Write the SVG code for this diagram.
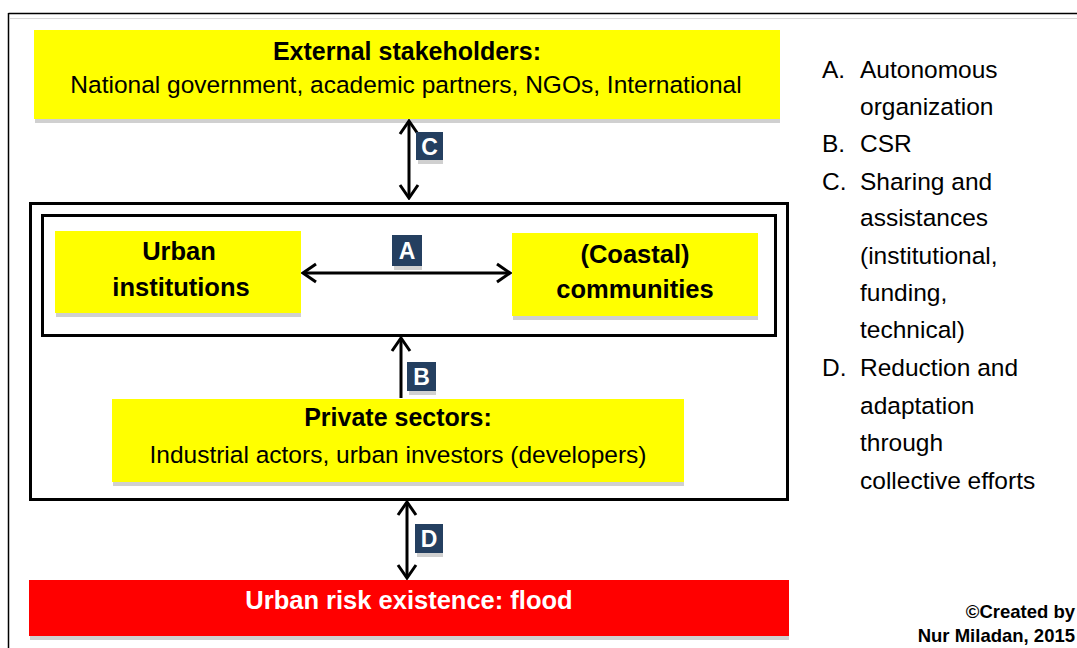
<svg xmlns="http://www.w3.org/2000/svg" width="1077" height="648" viewBox="0 0 1077 648">
<style>
text{font-family:"Liberation Sans",Arial,sans-serif;fill:#000}
.b{font-weight:bold}
.box{fill:#ffff00}
.sh{fill:#d0d0d0}
.lbl{fill:#243f60}
.lt{fill:#fff;font-weight:bold;font-size:23px;text-anchor:middle}
.conn{stroke:#000;stroke-width:3;fill:none}
.leg{font-size:24.5px}
</style>
<defs>
<marker id="ah" viewBox="0 0 22 22" refX="20" refY="11" markerWidth="22" markerHeight="22" markerUnits="userSpaceOnUse" orient="auto-start-reverse">
<path d="M7,2 L20,11 L7,20" fill="none" stroke="#000" stroke-width="3"/>
</marker>
</defs>
<rect width="1077" height="648" fill="#fff"/>
<g id="page-frame">
<line x1="8.5" y1="13.5" x2="1077" y2="13.5" stroke="#000" stroke-width="1.5"/>
<line x1="8.5" y1="13" x2="8.5" y2="648" stroke="#000" stroke-width="1.5"/>
<line x1="10" y1="18.5" x2="1077" y2="18.5" stroke="#d8d8d8" stroke-width="1"/>
</g>
<g id="external">
<rect class="sh" x="35" y="119" width="745" height="4"/>
<rect class="box" x="34" y="30" width="746" height="89"/>
<text class="b" x="407" y="60" font-size="25" text-anchor="middle">External stakeholders:</text>
<text x="406" y="93" font-size="24.5" text-anchor="middle">National government, academic partners, NGOs, International</text>
</g>
<g id="frame-outer">
<rect x="30.5" y="203.5" width="757" height="296" fill="none" stroke="#000" stroke-width="3"/>
</g>
<g id="frame-inner">
<rect x="42.5" y="215.5" width="733" height="120" fill="none" stroke="#000" stroke-width="3"/>
</g>
<g id="urban-institutions">
<rect class="sh" x="56" y="313" width="245" height="4"/>
<rect class="box" x="55" y="231" width="246" height="82"/>
<text class="b" x="179" y="260" font-size="25.5" text-anchor="middle">Urban</text>
<text class="b" x="181" y="296" font-size="25.5" text-anchor="middle">institutions</text>
</g>
<g id="coastal-communities">
<rect class="sh" x="513" y="316" width="245" height="4"/>
<rect class="box" x="512" y="233" width="246" height="83"/>
<text class="b" x="635" y="263" font-size="25.5" text-anchor="middle">(Coastal)</text>
<text class="b" x="635" y="298" font-size="25.5" text-anchor="middle">communities</text>
</g>
<g id="private-sectors">
<rect class="sh" x="113" y="482" width="571" height="4"/>
<rect class="box" x="112" y="399" width="572" height="83"/>
<text class="b" x="398" y="426" font-size="25" text-anchor="middle">Private sectors:</text>
<text x="398" y="463" font-size="24.5" text-anchor="middle">Industrial actors, urban investors (developers)</text>
</g>
<g id="urban-risk">
<rect class="sh" x="30" y="636" width="759" height="4"/>
<rect x="29" y="580" width="760" height="56" fill="#ff0000"/>
<text class="b" x="409" y="609" font-size="25.5" text-anchor="middle" style="fill:#fff">Urban risk existence: flood</text>
</g>
<g id="connectors">
<line class="conn" x1="409" y1="121" x2="409" y2="198" marker-start="url(#ah)" marker-end="url(#ah)"/>
<line class="conn" x1="303" y1="273" x2="510" y2="273" marker-start="url(#ah)" marker-end="url(#ah)"/>
<line class="conn" x1="401" y1="398" x2="401" y2="338" marker-end="url(#ah)"/>
<line class="conn" x1="407" y1="502" x2="407" y2="578" marker-start="url(#ah)" marker-end="url(#ah)"/>
</g>
<g id="label-A">
<rect class="sh" x="394" y="266" width="28" height="4"/>
<rect class="lbl" x="392" y="235" width="30" height="31"/>
<text class="lt" x="407" y="259">A</text>
</g>
<g id="label-B">
<rect class="sh" x="409" y="391" width="27" height="4"/>
<rect class="lbl" x="407" y="362" width="29" height="29"/>
<text class="lt" x="421.5" y="385">B</text>
</g>
<g id="label-C">
<rect class="sh" x="418" y="160" width="25" height="4"/>
<rect class="lbl" x="416" y="132" width="27" height="28"/>
<text class="lt" x="429.5" y="155">C</text>
</g>
<g id="label-D">
<rect class="sh" x="417" y="553" width="26" height="4"/>
<rect class="lbl" x="415" y="524" width="28" height="29"/>
<text class="lt" x="429" y="547">D</text>
</g>
<g id="legend">
<text class="leg" x="822" y="78">A.</text><text class="leg" x="860" y="78">Autonomous</text>
<text class="leg" x="860" y="115">organization</text>
<text class="leg" x="822" y="152">B.</text><text class="leg" x="860" y="152">CSR</text>
<text class="leg" x="822" y="190">C.</text><text class="leg" x="860" y="190">Sharing and</text>
<text class="leg" x="860" y="226">assistances</text>
<text class="leg" x="860" y="264">(institutional,</text>
<text class="leg" x="860" y="301">funding,</text>
<text class="leg" x="860" y="338">technical)</text>
<text class="leg" x="822" y="376">D.</text><text class="leg" x="860" y="376">Reduction and</text>
<text class="leg" x="860" y="414">adaptation</text>
<text class="leg" x="860" y="451">through</text>
<text class="leg" x="860" y="489">collective efforts</text>
</g>
<g id="credit">
<text class="b" x="1075" y="618" font-size="18.5" text-anchor="end">©Created by</text>
<text class="b" x="1075" y="642" font-size="18.5" text-anchor="end">Nur Miladan, 2015</text>
</g>
</svg>
